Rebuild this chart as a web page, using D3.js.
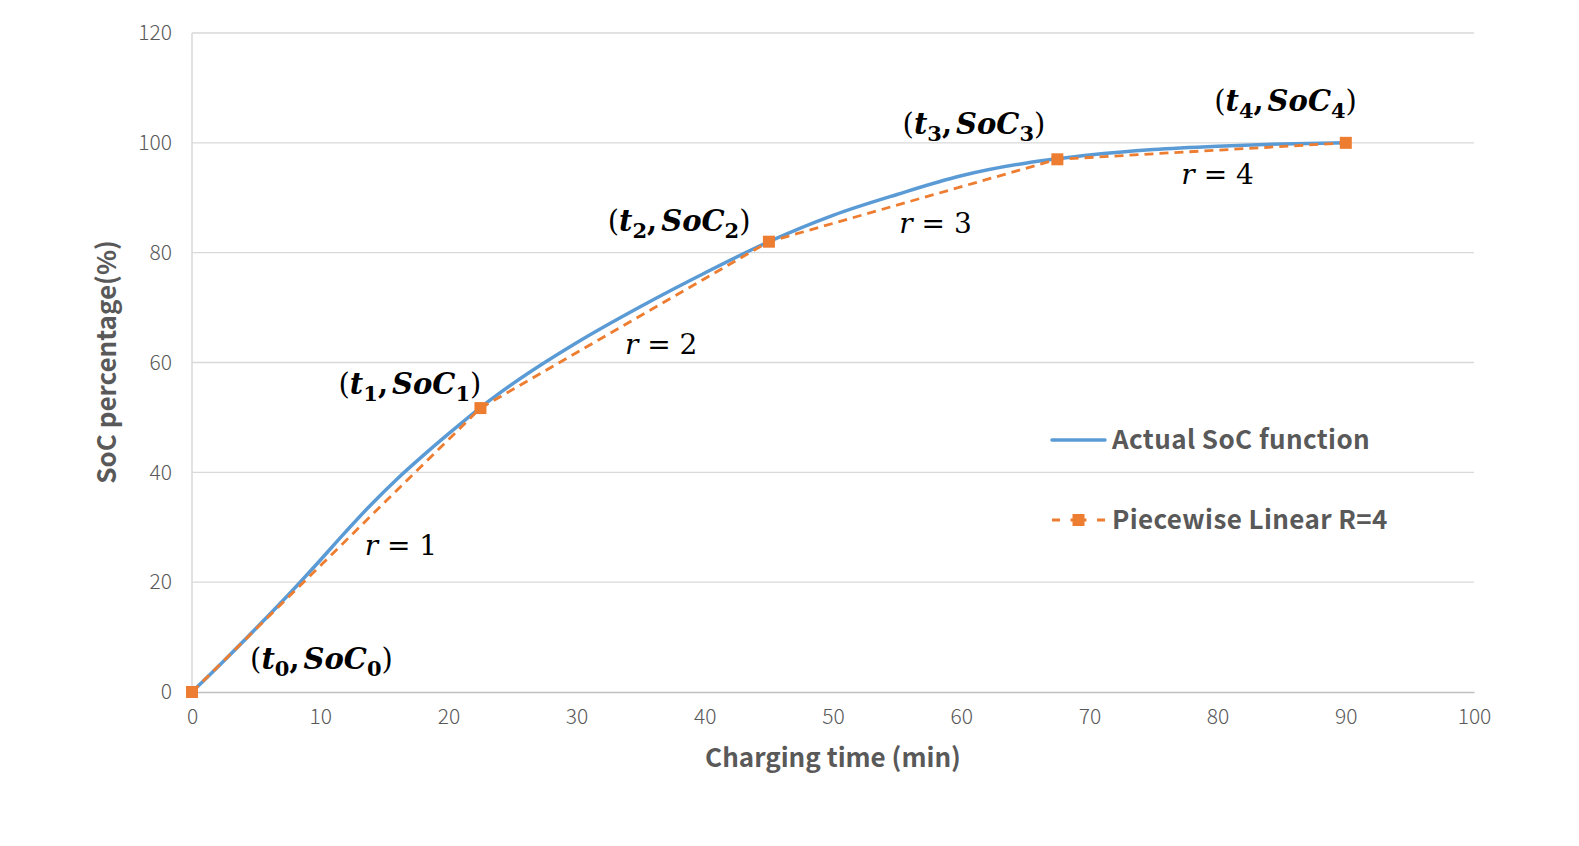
<!DOCTYPE html>
<html>
<head>
<meta charset="utf-8">
<script src="https://cdn.jsdelivr.net/npm/d3@7"></script>
<style>
  html, body { margin: 0; padding: 0; background: #ffffff; }
  svg { display: block; }
</style>
</head>
<body>
<svg id="chart" width="1579" height="846"></svg>
<script>
// ---------- data ----------
const xTicks = [0, 10, 20, 30, 40, 50, 60, 70, 80, 90, 100];
const yTicks = [0, 20, 40, 60, 80, 100, 120];

// actual SoC curve
const actualTime = [0, 2.5, 5, 8, 10, 12, 14, 16, 18, 20, 22.5, 25, 30, 35, 40, 45, 50, 55, 60, 65, 67.5, 70, 75, 80, 85, 90];
const actualSoC  = [0, 5.7, 11.6, 18.9, 24.0, 29.2, 34.2, 38.8, 43.0, 47.0, 51.8, 56.1, 63.6, 70.2, 76.3, 82, 86.8, 90.6, 94, 96.3, 97.1, 97.8, 98.8, 99.4, 99.8, 100];

// piecewise linear R=4 breakpoints
const pwTime = [0, 22.5, 45, 67.5, 90];
const pwSoC  = [0, 51.7, 82, 97, 100];

// annotation labels
const pointIndex = [0, 1, 2, 3, 4];
const pointLabelT = [10.1, 17, 38, 61, 85.3];
const pointLabelS = [4.2, 54.3, 84, 101.6, 105.8];
const segIndex = [1, 2, 3, 4];
const segLabelT = [16.3, 36.6, 58, 80];
const segLabelS = [24.9, 61.6, 83.5, 92.5];

const seriesNames = ["Actual SoC function", "Piecewise Linear R=4"];
const xTitle = "Charging time (min)";
const yTitle = "SoC percentage(%)";

// ---------- layout ----------
const svg = d3.select("#chart");
const x = d3.scaleLinear().domain([0, 100]).range([192, 1474]);
const y = d3.scaleLinear().domain([0, 120]).range([692, 33]);

const blue = "#5B9BD5", orange = "#ED7D31", grid = "#D9D9D9", txt = "#595959";
const tickFont = "'Noto Sans CJK SC', 'Noto Sans', sans-serif";

// gridlines
svg.append("g").selectAll("line").data(yTicks.filter(d => d > 0)).join("line")
  .attr("x1", x(0)).attr("x2", x(100))
  .attr("y1", d => y(d)).attr("y2", d => y(d))
  .attr("stroke", grid).attr("stroke-width", 1.3);

// left axis line
svg.append("line").attr("x1", x(0)).attr("x2", x(0)).attr("y1", y(0)).attr("y2", y(120))
  .attr("stroke", grid).attr("stroke-width", 1.5);

// x axis
const xAxis = svg.append("g").attr("transform", `translate(0,${y(0)})`)
  .call(d3.axisBottom(x).tickValues(xTicks).tickSize(0).tickPadding(17));
xAxis.select(".domain").attr("stroke", "#BFBFBF").attr("stroke-width", 1.5);
xAxis.selectAll("text").attr("fill", txt).style("font-family", tickFont).style("font-weight", 300).style("font-size", "21px");

// y axis
const yAxis = svg.append("g").attr("transform", `translate(${x(0)},0)`)
  .call(d3.axisLeft(y).tickValues(yTicks).tickSize(0).tickPadding(20));
yAxis.select(".domain").remove();
yAxis.selectAll("text").attr("fill", txt).style("font-family", tickFont).style("font-weight", 300).style("font-size", "21px");

// axis titles
svg.append("text").attr("x", 833).attr("y", 767).attr("text-anchor", "middle")
  .attr("fill", txt).style("font-family", tickFont).style("font-weight", 700).style("font-size", "26px")
  .text(xTitle);
svg.append("text").attr("transform", "translate(116,362) rotate(-90)").attr("text-anchor", "middle")
  .attr("fill", txt).style("font-family", tickFont).style("font-weight", 700).style("font-size", "26px")
  .text(yTitle);

// actual curve
const actualData = actualTime.map((t, i) => [t, actualSoC[i]]);
svg.append("path").datum(actualData)
  .attr("d", d3.line().x(d => x(d[0])).y(d => y(d[1])).curve(d3.curveMonotoneX))
  .attr("fill", "none").attr("stroke", blue).attr("stroke-width", 3.5).attr("stroke-linecap", "round");

// piecewise linear
const pwData = pwTime.map((t, i) => [t, pwSoC[i]]);
svg.append("path").datum(pwData)
  .attr("d", d3.line().x(d => x(d[0])).y(d => y(d[1])))
  .attr("fill", "none").attr("stroke", orange).attr("stroke-width", 2.8)
  .attr("stroke-dasharray", "9,6");
svg.append("g").selectAll("rect").data(pwData).join("rect")
  .attr("x", d => x(d[0]) - 6).attr("y", d => y(d[1]) - 6)
  .attr("width", 12).attr("height", 12).attr("fill", orange);

// point labels (t_i, SoC_i)
const mathFont = "'DejaVu Serif', 'Liberation Serif', serif";
const pl = svg.append("g").selectAll("text").data(pointIndex).join("text")
  .attr("x", (d, i) => x(pointLabelT[i])).attr("y", (d, i) => y(pointLabelS[i]))
  .attr("text-anchor", "middle").attr("fill", "#000")
  .style("font-family", mathFont).style("font-size", "29px");
pl.each(function(d) {
  const t = d3.select(this);
  t.append("tspan").style("font-weight", 400).text("(");
  t.append("tspan").style("font-style", "italic").style("font-weight", 700).text("t");
  t.append("tspan").attr("dy", 7).style("font-size", "21px").style("font-weight", 700).text(d);
  t.append("tspan").attr("dy", -7).style("font-weight", 700).text(",");
  t.append("tspan").attr("dx", 4).style("font-style", "italic").style("font-weight", 700).text("SoC");
  t.append("tspan").attr("dy", 7).style("font-size", "21px").style("font-weight", 700).text(d);
  t.append("tspan").attr("dy", -7).style("font-weight", 400).text(")");
});

// segment labels r = k
const sl = svg.append("g").selectAll("text").data(segIndex).join("text")
  .attr("x", (d, i) => x(segLabelT[i])).attr("y", (d, i) => y(segLabelS[i]))
  .attr("text-anchor", "middle").attr("fill", "#000")
  .style("font-family", mathFont).style("font-size", "28px");
sl.each(function(d) {
  const t = d3.select(this);
  t.append("tspan").style("font-style", "italic").text("r");
  t.append("tspan").text(" = " + d);
});

// legend
const lg = svg.append("g");
lg.append("line").attr("x1", 1052).attr("x2", 1105).attr("y1", 440).attr("y2", 440)
  .attr("stroke", blue).attr("stroke-width", 3.5).attr("stroke-linecap", "round");
lg.append("text").attr("x", 1112).attr("y", 449).attr("fill", txt)
  .style("font-family", tickFont).style("font-weight", 700).style("font-size", "26px").style("letter-spacing", "0.4px").text(seriesNames[0]);
lg.append("line").attr("x1", 1052).attr("x2", 1105).attr("y1", 520).attr("y2", 520)
  .attr("stroke", orange).attr("stroke-width", 2.8).attr("stroke-dasharray", "8,10.5,16,10.5,8");
lg.append("rect").attr("x", 1072.5).attr("y", 514).attr("width", 12).attr("height", 12).attr("fill", orange);
lg.append("text").attr("x", 1112).attr("y", 529).attr("fill", txt)
  .style("font-family", tickFont).style("font-weight", 700).style("font-size", "26px").style("letter-spacing", "0.4px").text(seriesNames[1]);
</script>
</body>
</html>
